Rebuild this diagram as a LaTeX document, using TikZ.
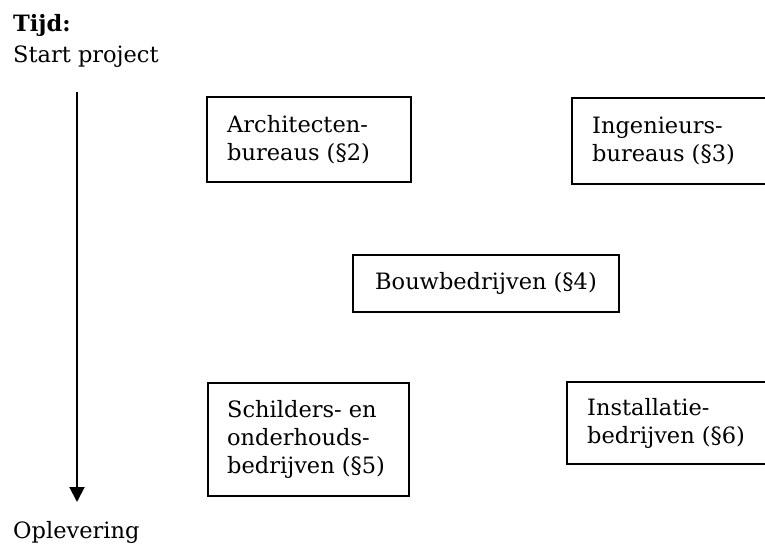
\documentclass[tikz,border=0pt]{standalone}
\usepackage{fontspec}
\setmainfont{DejaVu Serif}
\usetikzlibrary{arrows.meta}
\tikzset{
  fnt/.style={font=\fontsize{22.5}{28}\selectfont},
  lbl/.style={fnt, anchor=base west, inner sep=0pt},
  box/.style={draw, line width=2pt, anchor=north west, inner sep=0pt},
  boxtext/.style={fnt, anchor=west, inner sep=0pt, align=left},
  timeline/.style={line width=2pt, -{Triangle[width=15pt,length=15pt]}}
}
\begin{document}
\begin{tikzpicture}[x=1pt,y=-1pt]
\useasboundingbox (0,0) rectangle (765,553);
\clip (0,0) rectangle (765,553);
\node[lbl, font=\fontsize{22.5}{28}\selectfont\bfseries] (tijd) at (13,32) {Tijd:};
\node[lbl] (start) at (13,63) {Start project};
\node[lbl] (oplev) at (13,538) {Oplevering};
\coordinate (tstart) at (77,92);
\coordinate (tend) at (77,502);
\draw[timeline] (tstart) -- (tend);
\node[box, minimum width=204pt, minimum height=85pt] (arch) at (206,96) {};
\node[boxtext] (archt) at ([xshift=21pt]arch.west) {Architecten-\\bureaus (§2)};
\node[box, minimum width=210pt, minimum height=86pt] (ing) at (571,97) {};
\node[boxtext] (ingt) at ([xshift=21pt]ing.west) {Ingenieurs-\\bureaus (§3)};
\node[box, minimum width=266pt, minimum height=57pt] (bouw) at (352,254) {};
\node[boxtext, anchor=center] (bouwt) at (bouw.center) {Bouwbedrijven (§4)};
\node[box, minimum width=201pt, minimum height=113pt] (schil) at (207,382) {};
\node[boxtext] (schilt) at ([xshift=20pt]schil.west) {Schilders- en\\onderhouds-\\bedrijven (§5)};
\node[box, minimum width=214pt, minimum height=82pt] (inst) at (566,381) {};
\node[boxtext] (instt) at ([xshift=21pt]inst.west) {Installatie-\\bedrijven (§6)};
\end{tikzpicture}
\end{document}
